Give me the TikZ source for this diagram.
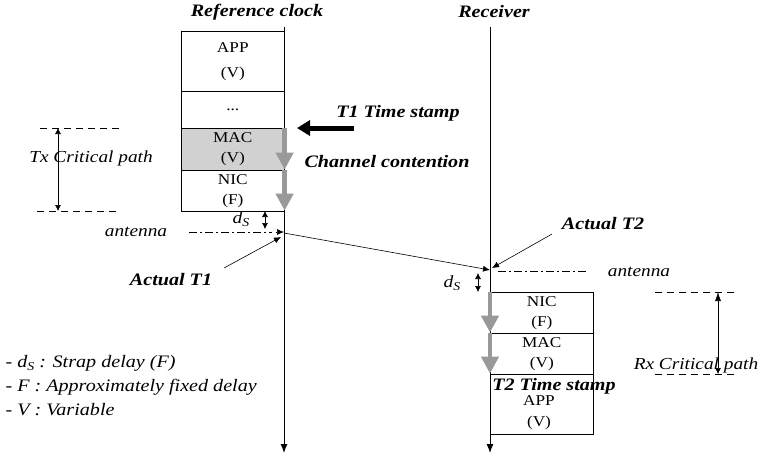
\documentclass[tikz,border=0pt]{standalone}
\usepackage{fontspec}
\setmainfont{Liberation Serif}[FakeStretch=1.15]
\usetikzlibrary{arrows.meta}
\newcommand\dsym{\textit{d}\raisebox{-0.35ex}{\fontsize{12}{12}\selectfont\textit{S}}}
\begin{document}
\begin{tikzpicture}[x=1pt,y=-1pt,
  layerbox/.style={draw,line width=0.6pt,minimum width=103pt,anchor=north west,inner sep=0pt,align=center,font=\fontsize{15}{20}\selectfont},
  boldlbl/.style={font=\fontsize{17.5}{18}\selectfont\bfseries\itshape},
  itlbl/.style={font=\fontsize{16.8}{18}\selectfont\itshape},
  timeline/.style={line width=1pt,-{Latex[length=9pt,width=7pt]}},
  grayarrow/.style={line width=4.5pt,draw=black!40,-{Triangle[length=17pt,width=17pt]},shorten >=1pt},
  smallarr/.style={line width=0.6pt,-{Latex[length=7pt,width=6pt]}},
  dbl/.style={line width=0.6pt,{Latex[length=6pt,width=6pt]}-{Latex[length=6pt,width=6pt]}},
  dashline/.style={line width=0.6pt,dash pattern=on 7pt off 5pt},
  dashdot/.style={line width=0.6pt,dash pattern=on 8pt off 3pt on 2pt off 3pt}]
\useasboundingbox (0,0) rectangle (762,456);
% titles
\node[boldlbl] (refclk) at (257,12) {Reference clock};
\node[boldlbl] (recv) at (494,12) {Receiver};
% left stack
\node[layerbox,minimum height=60pt] (app1) at (181,31) {APP\\[5pt](V)};
\node[layerbox,minimum height=37pt] (dots1) at (181,91) {...};
\node[layerbox,minimum height=42pt,fill=black!18] (mac1) at (181,128) {MAC\\(V)};
\node[layerbox,minimum height=41pt] (nic1) at (181,170) {NIC\\(F)};
% right stack
\node[layerbox,minimum height=41pt] (nic2) at (490,292) {NIC\\(F)};
\node[layerbox,minimum height=41pt] (mac2) at (490,333) {MAC\\(V)};
\node[layerbox,minimum height=60pt] (app2) at (490,374) {};
\node[boldlbl] (t2ts) at (554,386) {T2 Time stamp};
\node[font=\fontsize{15}{21}\selectfont,align=center] (app2txt) at (539,413) {APP\\(V)};
% timelines
\coordinate (l1top) at (284,27);
\coordinate (l1bot) at (284,453);
\coordinate (l2top) at (490,27);
\coordinate (l2bot) at (490,453);
\draw[timeline] (l1top) -- (l1bot);
\draw[timeline] (l2top) -- (l2bot);
% gray arrows
\draw[grayarrow] (mac1.north east) -- (mac1.south east);
\draw[grayarrow] (nic1.north east) -- (nic1.south east);
\draw[grayarrow] (nic2.north west) -- (nic2.south west);
\draw[grayarrow] (mac2.north west) -- (mac2.south west);
% T1 time stamp
\coordinate (t1s) at (354,128);
\coordinate (t1e) at (297,128);
\draw[line width=5pt,-{Triangle[length=13pt,width=15pt]}] (t1s) -- (t1e);
\node[boldlbl] (t1ts) at (398,113) {T1 Time stamp};
\node[boldlbl] (chc) at (387,162) {Channel contention};
% Tx critical path
\coordinate (txa1) at (40,128); \coordinate (txa2) at (122,128);
\coordinate (txb1) at (37,211); \coordinate (txb2) at (118,211);
\draw[dashline] (txa1) -- (txa2);
\draw[dashline] (txb1) -- (txb2);
\coordinate (txt) at (58,128); \coordinate (txbm) at (58,211);
\draw[dbl] (txt) -- (txbm);
\node[itlbl] (txcp) at (91,158) {Tx Critical path};
% Rx critical path
\coordinate (rxa1) at (655,292); \coordinate (rxa2) at (737,292);
\coordinate (rxb1) at (655,374); \coordinate (rxb2) at (737,374);
\draw[dashline] (rxa1) -- (rxa2);
\draw[dashline] (rxb1) -- (rxb2);
\coordinate (rxt) at (718,292); \coordinate (rxbm) at (718,374);
\draw[line width=0.6pt,{Latex[length=9pt,width=6pt]}-{Latex[length=6pt,width=6pt]}] (rxt) -- (rxbm);
\node[itlbl] (rxcp) at (696,365) {Rx Critical path};
% left antenna and ds
\coordinate (ant1a) at (189,232); \coordinate (ant1b) at (272,232);
\draw[dashdot] (ant1a) -- (ant1b);
\node[itlbl] (ant1) at (136,232) {antenna};
\coordinate (ds1t) at (265,211); \coordinate (ds1b) at (265,229);
\draw[dbl] (ds1t) -- (ds1b);
\node[font=\fontsize{17}{18}\selectfont] (ds1) at (241,219) {\dsym};
\coordinate (tx1) at (284,233);
\coordinate (rx2) at (490,270);
\draw[line width=0.6pt,-{Latex[length=7pt,width=6pt]}] (tx1) -- (rx2);
\coordinate (ant1arr) at (284,232);
\draw[smallarr] (276,232) -- (ant1arr);
\coordinate (at1tail) at (224,268);
\coordinate (at1head) at (281,237);
\draw[smallarr] (at1tail) -- (at1head);
\node[boldlbl] (at1) at (171,280) {Actual T1};
% right antenna and ds
\coordinate (ant2a) at (498,271); \coordinate (ant2b) at (586,271);
\draw[dashdot] (ant2a) -- (ant2b);
\node[itlbl] (ant2) at (639,272) {antenna};
\coordinate (ds2t) at (478,273); \coordinate (ds2b) at (478,292);
\draw[dbl] (ds2t) -- (ds2b);
\node[font=\fontsize{17}{18}\selectfont] (ds2) at (452,283) {\dsym};
\coordinate (at2tail) at (552,234);
\coordinate (at2head) at (492,268);
\draw[smallarr] (at2tail) -- (at2head);
\node[boldlbl] (at2) at (603,224) {Actual T2};
% legend
\node[itlbl,font=\fontsize{17.5}{18}\selectfont\itshape,anchor=west] (lg1) at (2,363) {- \dsym\ : Strap delay (F)};
\node[itlbl,font=\fontsize{17.5}{18}\selectfont\itshape,anchor=west] (lg2) at (2,387) {- F : Approximately fixed delay};
\node[itlbl,font=\fontsize{17.5}{18}\selectfont\itshape,anchor=west] (lg3) at (2,410) {- V : Variable};
\end{tikzpicture}
\end{document}
